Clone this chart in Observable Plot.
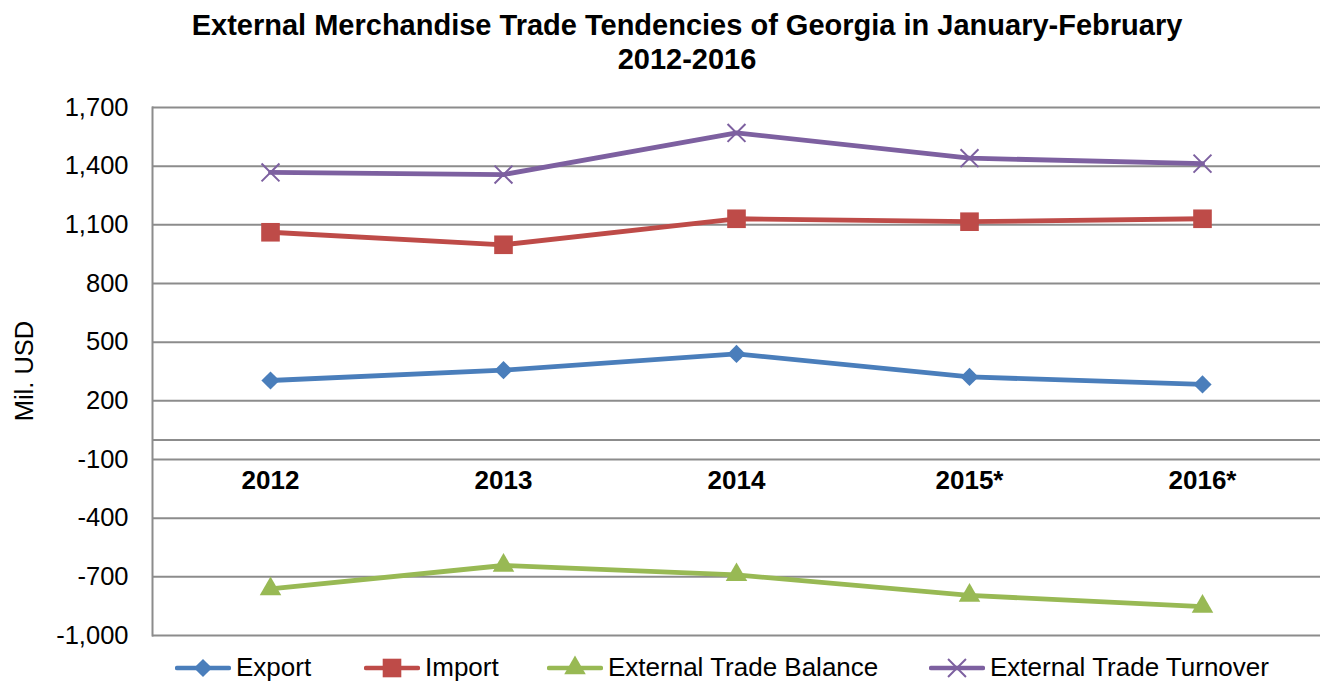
<!DOCTYPE html>
<html>
<head>
<meta charset="utf-8">
<script src="https://cdn.jsdelivr.net/npm/d3@7"></script>
<script src="https://cdn.jsdelivr.net/npm/@observablehq/plot@0.6"></script>
<style>
  html, body { margin: 0; padding: 0; background: #fff; }
  body { width: 1322px; height: 685px; overflow: hidden; font-family: "Liberation Sans", Arial, sans-serif; }
  #wrap { position: relative; width: 1322px; height: 685px; }
  #title { position: absolute; left: 0; top: 8px; width: 1374px; text-align: center; font-weight: bold; font-size: 29px; line-height: 34px; color: #000; }
  #ylabel { position: absolute; left: 24px; top: 371px; transform: translate(-50%, -50%) rotate(-90deg); font-size: 25.5px; white-space: nowrap; color: #000; }
  #chart { position: absolute; left: 0; top: 0; }
  #legend { position: absolute; left: 0; top: 652px; width: 1322px; height: 33px; font-size: 26px; color: #000; }
  .item { position: absolute; top: 0; display: flex; align-items: center; white-space: nowrap; }
  .item svg { margin-right: 5px; }
</style>
</head>
<body>
<div id="wrap">
  <div id="chart"></div>
  <div id="title">External Merchandise Trade Tendencies of Georgia in January-February<br>2012-2016</div>
  <div id="ylabel">Mil. USD</div>
  <div id="legend"></div>
</div>
<script>
const years = ["2012", "2013", "2014", "2015*", "2016*"];
const seriesNames = ["Export", "Import", "External Trade Balance", "External Trade Turnover"];
const exportVals = [304, 357, 440, 322, 284];
const importVals = [1062, 998, 1131, 1116, 1131];
const balanceVals = [-762, -642, -690, -795, -852];
const turnoverVals = [1368, 1357, 1570, 1441, 1413];
const yTicks = [-1000, -700, -400, -100, 200, 500, 800, 1100, 1400, 1700];
const colors = ["#4A7EBB", "#BE4B48", "#98B954", "#7D60A0"];
const symbols = ["diamond2", "square", "triangle", "times"];

const valueLists = [exportVals, importVals, balanceVals, turnoverVals];
const rows = [];
seriesNames.forEach((s, i) => years.forEach((y, j) => rows.push({series: s, year: y, value: valueLists[i][j]})));

const font = '"Liberation Sans", Arial, sans-serif';
const markR = [8.2, 10.5, 8, 8.2];
const fmt = d3.formatLocale({decimal: ".", thousands: ",", grouping: [3], currency: ["$", ""], minus: "-"}).format(",");

const marks = [
  Plot.ruleY(yTicks, {stroke: "#8c8c8c", strokeWidth: 2}),
  Plot.ruleY([0], {stroke: "#8c8c8c", strokeWidth: 2}),
  Plot.frame({anchor: "left", stroke: "#8c8c8c", strokeWidth: 2}),
  Plot.axisY(yTicks, {tickSize: 0, tickPadding: 24, tickFormat: fmt, label: null, fontSize: 25.5, fill: "#000"}),
  Plot.text(years, {x: d => d, y: d => 0, dy: 41, text: d => d, fontWeight: "bold", fontSize: 26, fill: "#000", lineAnchor: "middle"})
];
seriesNames.forEach((s, i) => {
  const data = rows.filter(r => r.series === s);
  marks.push(Plot.line(data, {x: "year", y: "value", stroke: colors[i], strokeWidth: 4.8, strokeLinejoin: "round", strokeLinecap: "round"}));
  if (symbols[i] === "times") {
    marks.push(Plot.dot(data, {x: "year", y: "value", symbol: symbols[i], r: markR[i], stroke: colors[i], strokeWidth: 2}));
  } else {
    marks.push(Plot.dot(data, {x: "year", y: "value", symbol: symbols[i], r: markR[i], fill: colors[i], stroke: "none"}));
  }
});

const chart = Plot.plot({
  width: 1322,
  height: 650,
  marginLeft: 152,
  marginRight: 2,
  marginTop: 107,
  marginBottom: 15,
  x: {type: "point", domain: years, padding: 0.5, axis: null},
  y: {domain: [-1000, 1700], axis: null},
  style: {fontFamily: font, fontSize: "25.5px", color: "#000", background: "transparent"},
  marks
});
document.getElementById("chart").appendChild(chart);

// Legend
const legendLeft = [175, 364, 547, 929];
const legend = document.getElementById("legend");
const symMap = {diamond2: d3.symbolDiamond2, square: d3.symbolSquare, triangle: d3.symbolTriangle, times: d3.symbolTimes};
seriesNames.forEach((s, i) => {
  const item = document.createElement("div");
  item.className = "item";
  item.style.left = legendLeft[i] + "px";
  const size = Math.PI * markR[i] * markR[i];
  const path = d3.symbol(symMap[symbols[i]], size)();
  const isTimes = symbols[i] === "times";
  item.innerHTML = `<svg width="56" height="30" viewBox="0 0 56 30">
    <line x1="2" y1="15" x2="54" y2="15" stroke="${colors[i]}" stroke-width="4.5" stroke-linecap="round"/>
    <path d="${path}" transform="translate(28,15)" fill="${isTimes ? "none" : colors[i]}" stroke="${isTimes ? colors[i] : "none"}" stroke-width="2"/>
  </svg><span>${s}</span>`;
  legend.appendChild(item);
});
</script>
</body>
</html>
